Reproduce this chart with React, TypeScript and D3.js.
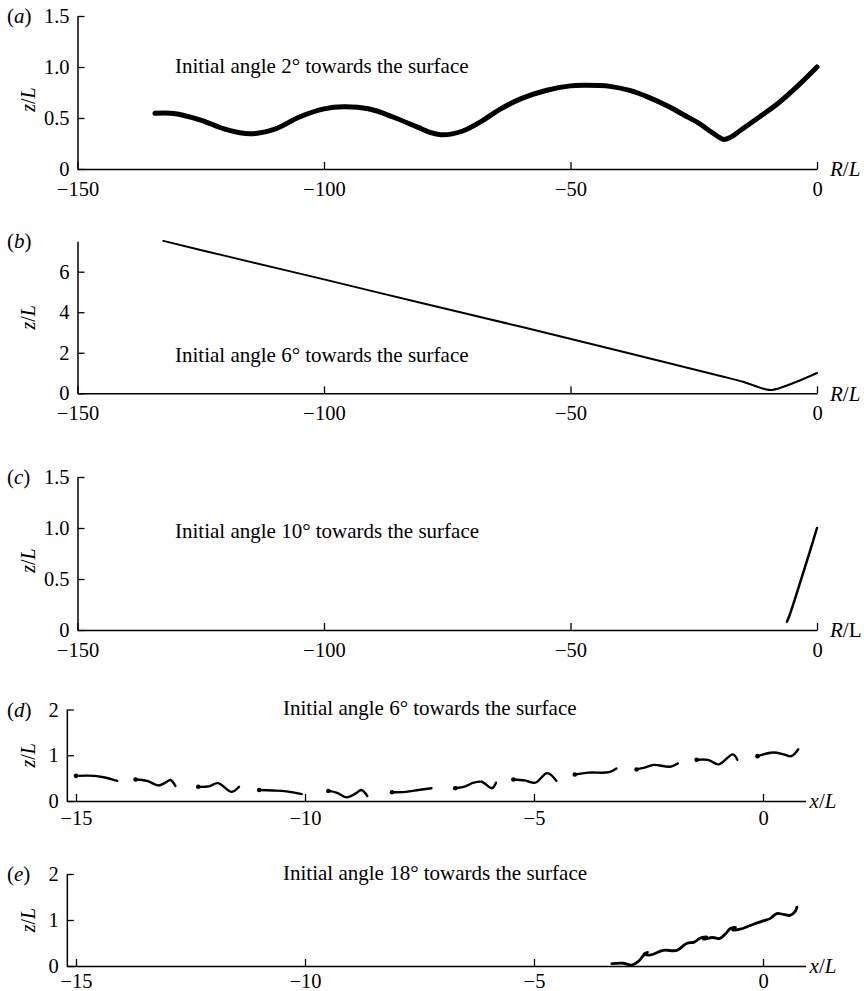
import { useEffect, useRef } from 'react';
import * as d3 from 'd3';

const W = 864;
const H = 991;
const FONT = '"Liberation Serif", "Times New Roman", serif';

// (a) initial angle 2 deg
const aR = [-134.3, -130.5, -125.0, -120.0, -115.0, -110.0, -105.0, -100.0, -96.0, -91.0, -86.0, -81.0, -78.5, -75.8, -72.0, -68.0, -64.5, -60.0, -55.0, -50.0, -47.0, -42.0, -38.0, -34.0, -30.0, -27.0, -24.0, -21.5, -20.0, -18.9, -17.6, -15.5, -12.0, -8.0, -4.0, 0];
const aZ = [0.546, 0.545, 0.48, 0.39, 0.345, 0.39, 0.51, 0.59, 0.61, 0.59, 0.51, 0.41, 0.36, 0.335, 0.37, 0.47, 0.58, 0.69, 0.77, 0.815, 0.82, 0.81, 0.77, 0.7, 0.61, 0.53, 0.45, 0.365, 0.315, 0.29, 0.31, 0.38, 0.5, 0.64, 0.81, 1.0];

// (b) initial angle 6 deg
const bR = [-132.6, -120, -100, -80, -60, -40, -20, -15, -12.5, -10.5, -9.2, -7.8, -4, 0];
const bZ = [7.52, 6.78, 5.62, 4.44, 3.28, 2.09, 0.88, 0.57, 0.36, 0.2, 0.16, 0.24, 0.58, 1.0];

// (c) initial angle 10 deg
const cR = [-6.1, -5.6, -4.5, -3.0, -1.5, 0];
const cZ = [0.08, 0.14, 0.3, 0.53, 0.76, 1.0];

// (d) initial angle 6 deg, pieces of the trajectory
const dX = [
  [-15.0, -14.6, -14.4, -14.1],
  [-13.7, -13.45, -13.2, -13.05, -12.94, -12.83],
  [-12.33, -12.1, -11.9, -11.6, -11.44],
  [-11.0, -10.7, -10.4, -10.07],
  [-9.49, -9.3, -9.09, -8.9, -8.77, -8.64],
  [-8.1, -7.8, -7.52, -7.24],
  [-6.72, -6.5, -6.32, -6.14, -5.92, -5.83],
  [-5.45, -5.2, -4.97, -4.71, -4.51],
  [-4.11, -3.8, -3.36, -3.2],
  [-2.76, -2.55, -2.39, -2.03, -1.86],
  [-1.45, -1.2, -0.97, -0.66, -0.56],
  [-0.12, 0.22, 0.45, 0.62, 0.77],
];
const dZ = [
  [0.55, 0.55, 0.52, 0.44],
  [0.47, 0.44, 0.34, 0.4, 0.46, 0.33],
  [0.31, 0.32, 0.39, 0.2, 0.31],
  [0.24, 0.23, 0.21, 0.15],
  [0.22, 0.18, 0.08, 0.16, 0.24, 0.11],
  [0.19, 0.2, 0.24, 0.28],
  [0.28, 0.32, 0.4, 0.42, 0.28, 0.4],
  [0.47, 0.45, 0.4, 0.61, 0.44],
  [0.58, 0.62, 0.63, 0.71],
  [0.69, 0.74, 0.79, 0.75, 0.82],
  [0.9, 0.9, 0.8, 1.02, 0.9],
  [0.98, 1.06, 1.02, 0.98, 1.13],
];

// (e) initial angle 18 deg
const eX = [-3.3, -3.05, -2.87, -2.72, -2.61, -2.52, -2.6, -2.45, -2.18, -1.88, -1.67, -1.5, -1.38, -1.23, -1.3, -1.1, -0.94, -0.8, -0.72, -0.6, -0.66, -0.5, -0.28, 0.0, 0.15, 0.3, 0.45, 0.59, 0.7, 0.74];
const eZ = [0.05, 0.06, 0.02, 0.1, 0.23, 0.3, 0.26, 0.24, 0.34, 0.34, 0.49, 0.52, 0.6, 0.63, 0.58, 0.62, 0.6, 0.72, 0.81, 0.84, 0.78, 0.8, 0.88, 0.98, 1.03, 1.14, 1.12, 1.1, 1.18, 1.28];

const rTicks = [-150, -100, -50, 0];
const xTicks = [-15, -10, -5, 0];
const zTicksFine = [0, 0.5, 1.0, 1.5];
const zTicksB = [0, 2, 4, 6];
const zTicksD = [0, 1, 2];

const tags = ['a', 'b', 'c', 'd', 'e'];
const captions = [
  'Initial angle 2° towards the surface',
  'Initial angle 6° towards the surface',
  'Initial angle 10° towards the surface',
  'Initial angle 6° towards the surface',
  'Initial angle 18° towards the surface',
];

interface Trace { x: number[]; z: number[] }

interface Panel {
  tag: string;
  caption: string;
  capX: number;
  capY: number;
  xDomain: [number, number];
  xRange: [number, number];
  xTicks: number[];
  xVar: string;
  uprightL: boolean;
  yDomain: [number, number];
  yRange: [number, number];
  yTicks: number[];
  yFmt: (d: number) => string;
  labelGap: number;
  traces: Trace[];
  width: number;
  dots: boolean;
}

const fmtNum = (d: number) => (d < 0 ? '\u2212' + Math.abs(d) : String(d));
const fmtFine = (d: number) => (d === 0 ? '0' : d.toFixed(1));

// x/L panels share the same horizontal scale (-15 at 76px, 0 at 763px)
const xPx = (v: number) => 76 + (v + 15) * 45.8;

const panels: Panel[] = [
  {
    tag: tags[0], caption: captions[0], capX: 175, capY: 73,
    xDomain: [-150, 0], xRange: [77.5, 817], xTicks: rTicks, xVar: 'R', uprightL: false,
    yDomain: [0, 1.5], yRange: [169, 16], yTicks: zTicksFine, yFmt: fmtFine, labelGap: 20,
    traces: [{ x: aR, z: aZ }], width: 5, dots: false,
  },
  {
    tag: tags[1], caption: captions[1], capX: 175, capY: 362,
    xDomain: [-150, 0], xRange: [77.5, 817], xTicks: rTicks, xVar: 'R', uprightL: false,
    yDomain: [0, 7.5], yRange: [393.3, 241.3], yTicks: zTicksB, yFmt: fmtNum, labelGap: 20,
    traces: [{ x: bR, z: bZ }], width: 2, dots: false,
  },
  {
    tag: tags[2], caption: captions[2], capX: 175, capY: 538,
    xDomain: [-150, 0], xRange: [77.5, 817], xTicks: rTicks, xVar: 'R', uprightL: true,
    yDomain: [0, 1.5], yRange: [630, 477], yTicks: zTicksFine, yFmt: fmtFine, labelGap: 20,
    traces: [{ x: cR, z: cZ }], width: 2.5, dots: false,
  },
  {
    tag: tags[3], caption: captions[3], capX: 283, capY: 715,
    xDomain: [-15.2, 0.93], xRange: [xPx(-15.2), xPx(0.93)], xTicks, xVar: 'x', uprightL: false,
    yDomain: [0, 2], yRange: [801, 709.5], yTicks: zTicksD, yFmt: fmtNum, labelGap: 17,
    traces: dX.map((xs, i) => ({ x: xs, z: dZ[i] })), width: 2.4, dots: true,
  },
  {
    tag: tags[4], caption: captions[4], capX: 283, capY: 880,
    xDomain: [-15.2, 0.93], xRange: [xPx(-15.2), xPx(0.93)], xTicks, xVar: 'x', uprightL: false,
    yDomain: [0, 2], yRange: [966, 874], yTicks: zTicksD, yFmt: fmtNum, labelGap: 15,
    traces: [{ x: eX, z: eZ }], width: 2.8, dots: false,
  },
];

export default function App() {
  const svgRef = useRef<SVGSVGElement>(null);

  useEffect(() => {
    if (!svgRef.current) return;
    const svg = d3.select(svgRef.current);
    svg.selectAll('*').remove();

    panels.forEach(p => {
      const x = d3.scaleLinear().domain(p.xDomain).range(p.xRange);
      const y = d3.scaleLinear().domain(p.yDomain).range(p.yRange);
      const g = svg.append('g');

      // x axis, ticks pointing inwards
      const xa = g.append('g')
        .attr('transform', `translate(0,${p.yRange[0]})`)
        .call(d3.axisBottom(x)
          .tickValues(p.xTicks)
          .tickSizeInner(-7)
          .tickSizeOuter(0)
          .tickFormat(d => fmtNum(Number(d))))
        .attr('font-family', FONT)
        .attr('font-size', 20.5);
      xa.select('.domain').attr('stroke-width', 1.5);
      xa.selectAll('.tick line').attr('stroke-width', 1.3);
      xa.selectAll('.tick text').attr('y', p.labelGap).attr('dy', '0.35em');

      // y axis
      const ya = g.append('g')
        .attr('transform', `translate(${p.xRange[0]},0)`)
        .call(d3.axisLeft(y)
          .tickValues(p.yTicks)
          .tickSizeInner(-7)
          .tickSizeOuter(0)
          .tickPadding(8)
          .tickFormat(d => p.yFmt(Number(d))))
        .attr('font-family', FONT)
        .attr('font-size', 20.5);
      ya.select('.domain').attr('stroke-width', 1.5);
      ya.selectAll('.tick line').attr('stroke-width', 1.3);
      ya.selectAll('.tick text').attr('dy', '0.32em');

      // panel tag
      const tag = g.append('text')
        .attr('x', 7)
        .attr('y', p.yRange[1] + 7)
        .attr('font-family', FONT)
        .attr('font-size', 21);
      tag.append('tspan').text('(');
      tag.append('tspan').attr('font-style', 'italic').text(p.tag);
      tag.append('tspan').text(')');

      // z/L label
      const yMid = (p.yRange[0] + p.yRange[1]) / 2 + (p.xVar === 'R' && p.yDomain[1] < 2 ? 7 : 0);
      const zl = g.append('text')
        .attr('transform', `translate(35,${yMid}) rotate(-90)`)
        .attr('text-anchor', 'middle')
        .attr('font-family', FONT)
        .attr('font-size', 20);
      zl.append('tspan').attr('font-style', 'italic').text('z');
      zl.append('tspan').text('/');
      zl.append('tspan').attr('font-style', 'italic').text('L');

      // x-axis name
      const xl = g.append('text')
        .attr('x', p.xRange[1] + (p.xVar === 'R' ? 13 : 4))
        .attr('y', p.yRange[0])
        .attr('dy', '0.35em')
        .attr('font-family', FONT)
        .attr('font-size', 21);
      xl.append('tspan').attr('font-style', 'italic').text(p.xVar);
      xl.append('tspan').text('/');
      xl.append('tspan').attr('font-style', p.uprightL ? 'normal' : 'italic').text('L');

      // caption
      g.append('text')
        .attr('x', p.capX)
        .attr('y', p.capY)
        .attr('font-family', FONT)
        .attr('font-size', 21)
        .text(p.caption);

      // trajectories
      p.traces.forEach(t => {
        const idx = d3.range(t.x.length);
        const line = d3.line<number>()
          .x(i => x(t.x[i]))
          .y(i => y(t.z[i]))
          .curve(d3.curveCatmullRom.alpha(0.5));
        g.append('path')
          .datum(idx)
          .attr('fill', 'none')
          .attr('stroke', '#000')
          .attr('stroke-width', p.width)
          .attr('stroke-linecap', 'round')
          .attr('stroke-linejoin', 'round')
          .attr('d', line);
        if (p.dots) {
          g.append('circle')
            .attr('cx', x(t.x[0]))
            .attr('cy', y(t.z[0]))
            .attr('r', 2.3)
            .attr('fill', '#000');
        }
      });
    });
  }, []);

  return (
    <div style={{ position: 'absolute', left: 0, top: 0 }}>
      <svg ref={svgRef} width={W} height={H} style={{ display: 'block', background: '#fff' }} />
    </div>
  );
}
